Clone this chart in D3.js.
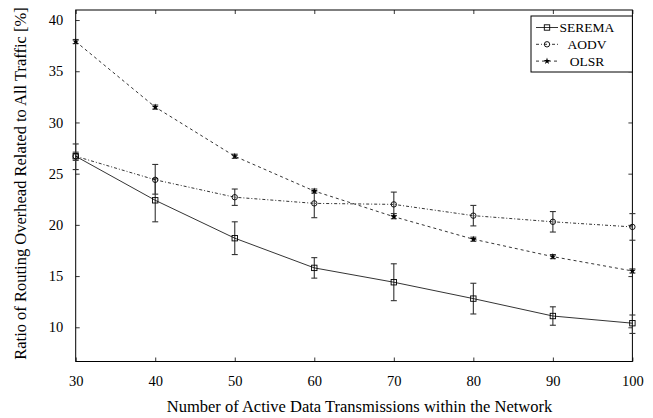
<!DOCTYPE html>
<html>
<head>
<meta charset="utf-8">
<script src="https://cdn.jsdelivr.net/npm/d3@7"></script>
<style>
  body { margin: 0; background: #fff; }
  svg { display: block; }
  svg text { font-family: "Liberation Serif", "Times New Roman", serif; fill: #000; }
</style>
</head>
<body>
<div id="chart"></div>
<script>
// data
const transmissions = [30, 40, 50, 60, 70, 80, 90, 100]
const seremaValues = [26.7, 22.4, 18.7, 15.8, 14.4, 12.8, 11.1, 10.4]
const seremaLow = [26.3, 20.3, 17.1, 14.8, 12.6, 11.3, 10.2, 9.4]
const seremaHigh = [27.1, 24.5, 20.3, 16.8, 16.2, 14.3, 12.0, 11.2]
const aodvValues = [26.7, 24.4, 22.7, 22.1, 22.0, 20.9, 20.3, 19.8]
const aodvLow = [25.4, 23.0, 21.9, 20.7, 20.9, 19.9, 19.3, 18.5]
const aodvHigh = [27.9, 25.9, 23.5, 23.3, 23.2, 21.9, 21.3, 21.1]
const olsrValues = [37.9, 31.5, 26.7, 23.3, 20.8, 18.6, 16.9, 15.5]
const olsrLow = [37.7, 31.3, 26.5, 23.1, 20.6, 18.4, 16.7, 15.3]
const olsrHigh = [38.1, 31.7, 26.9, 23.5, 21.1, 18.8, 17.1, 15.7]
const yTicks = [10, 15, 20, 25, 30, 35, 40]
const xTicks = [30, 40, 50, 60, 70, 80, 90, 100]

const series = [
    {name: "SEREMA", values: seremaValues, low: seremaLow, high: seremaHigh, dash: null, marker: "square"},
    {name: "AODV", values: aodvValues, low: aodvLow, high: aodvHigh, dash: "3,2,1,2", marker: "circle"},
    {name: "OLSR", values: olsrValues, low: olsrLow, high: olsrHigh, dash: "3,3", marker: "star"}
]

const width = 653
const height = 418
const plot = {left: 75.7, right: 632.4, top: 10, bottom: 361.5}

const x = d3.scaleLinear().domain([30, 100]).range([plot.left, plot.right])
const y = d3.scaleLinear().domain([6.66, 40.98]).range([plot.bottom, plot.top])

const svg = d3.select("#chart").append("svg")
    .attr("width", width)
    .attr("height", height)

// axes, ticks pointing inward on all four sides
const axisStyle = g => {
    g.attr("font-family", null).attr("font-size", null)
    g.select(".domain").remove()
    g.selectAll(".tick line").attr("stroke", "#000").attr("stroke-width", 0.8)
    g.selectAll(".tick text").style("font-size", "14.5px")
}

svg.append("g")
    .attr("transform", `translate(${plot.left},0)`)
    .call(d3.axisLeft(y).tickValues(yTicks).tickSizeInner(-4).tickSizeOuter(0).tickPadding(12.5))
    .call(axisStyle)

svg.append("g")
    .attr("transform", `translate(${plot.right},0)`)
    .call(d3.axisRight(y).tickValues(yTicks).tickSizeInner(-4).tickSizeOuter(0).tickFormat(""))
    .call(axisStyle)

svg.append("g")
    .attr("transform", `translate(0,${plot.bottom})`)
    .call(d3.axisBottom(x).tickValues(xTicks).tickSizeInner(-4).tickSizeOuter(0).tickPadding(14))
    .call(axisStyle)

svg.append("g")
    .attr("transform", `translate(0,${plot.top})`)
    .call(d3.axisTop(x).tickValues(xTicks).tickSizeInner(-4).tickSizeOuter(0).tickFormat(""))
    .call(axisStyle)

svg.append("rect")
    .attr("x", plot.left).attr("y", plot.top)
    .attr("width", plot.right - plot.left).attr("height", plot.bottom - plot.top)
    .attr("fill", "none").attr("stroke", "#000").attr("stroke-width", 1)

// axis titles
svg.append("text")
    .attr("x", 359.5)
    .attr("y", 411.5)
    .attr("text-anchor", "middle")
    .style("font-size", "16.5px")
    .text("Number of Active Data Transmissions within the Network")

svg.append("text")
    .attr("transform", `translate(26,183.5) rotate(-90)`)
    .attr("text-anchor", "middle")
    .style("font-size", "16.5px")
    .text("Ratio of Routing Overhead Related to All Traffic [%]")

const drawMarker = (g, type, cx, cy) => {
    if (type === "square") {
        g.append("rect").attr("x", cx - 2.7).attr("y", cy - 2.7).attr("width", 5.4).attr("height", 5.4)
            .attr("fill", "none").attr("stroke", "#000").attr("stroke-width", 0.9)
    } else if (type === "circle") {
        g.append("circle").attr("cx", cx).attr("cy", cy).attr("r", 2.7)
            .attr("fill", "none").attr("stroke", "#000").attr("stroke-width", 0.9)
    } else {
        g.append("path")
            .attr("transform", `translate(${cx},${cy})`)
            .attr("d", d3.symbol(d3.symbolStar, 14)())
            .attr("fill", "#000")
    }
}

const line = d3.line()
    .x((d, i) => x(transmissions[i]))
    .y(d => y(d))

series.forEach(s => {
    const g = svg.append("g").attr("class", "series")

    // error bars
    transmissions.forEach((t, i) => {
        const cx = x(t)
        const eb = g.append("g").attr("stroke", "#333").attr("stroke-width", 1.1)
        eb.append("line").attr("x1", cx).attr("x2", cx).attr("y1", y(s.low[i])).attr("y2", y(s.high[i]))
        eb.append("line").attr("x1", cx - 3).attr("x2", cx + 3).attr("y1", y(s.low[i])).attr("y2", y(s.low[i]))
        eb.append("line").attr("x1", cx - 3).attr("x2", cx + 3).attr("y1", y(s.high[i])).attr("y2", y(s.high[i]))
    })

    g.append("path")
        .attr("d", line(s.values))
        .attr("fill", "none")
        .attr("stroke", "#000")
        .attr("stroke-width", 0.8)
        .attr("stroke-dasharray", s.dash)

    s.values.forEach((v, i) => drawMarker(g, s.marker, x(transmissions[i]), y(v)))
})

// legend
const legend = svg.append("g")
legend.append("rect")
    .attr("x", 531).attr("y", 16).attr("width", 101.4).attr("height", 56)
    .attr("fill", "#fff").attr("stroke", "#000").attr("stroke-width", 1)

series.forEach((s, i) => {
    const ly = 27.5 + i * 16.8
    legend.append("line")
        .attr("x1", 536).attr("x2", 558).attr("y1", ly).attr("y2", ly)
        .attr("stroke", "#000").attr("stroke-width", 0.8)
        .attr("stroke-dasharray", s.dash)
    drawMarker(legend, s.marker, 547, ly)
    legend.append("text")
        .attr("x", 587).attr("y", ly + 4.5)
        .attr("text-anchor", "middle")
        .style("font-size", "13.5px")
        .text(s.name)
})
</script>
</body>
</html>
